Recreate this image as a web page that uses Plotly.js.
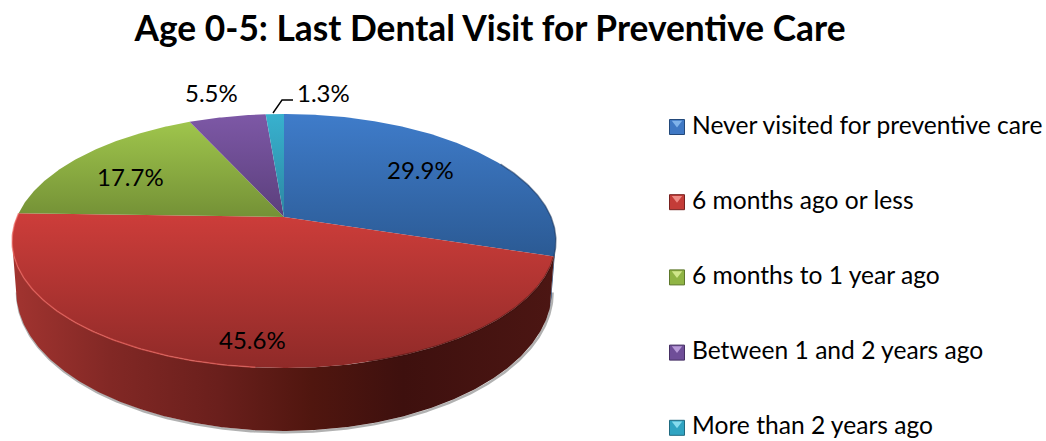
<!DOCTYPE html>
<html>
<head>
<meta charset="utf-8">
<script src="https://cdn.plot.ly/plotly-3.0.1.min.js"></script>
<style>html,body{margin:0;padding:0;background:#fff}#chart{width:1046px;height:441px}</style>
</head>
<body>
<div id="chart"></div>
<script>
// Survey results
const categories = ["Never visited for preventive care", "6 months ago or less", "6 months to 1 year ago", "Between 1 and 2 years ago", "More than 2 years ago"];
const shares = [29.9, 45.6, 17.7, 5.5, 1.3];
const chartTitle = "Age 0-5: Last Dental Visit for Preventive Care";

// Slice styling: top-face gradient (upper, lower) and key swatch colours
const faceHigh = ["#3f7cca", "#cd3d3a", "#9fc54c", "#7d58a6", "#38b1ce"];
const faceLow = ["#2b5a94", "#8f2a28", "#749136", "#5b3f7c", "#2c87a2"];
const swatchMid = ["#3f78c4", "#c43c38", "#8fb444", "#6f4e98", "#30a4c2"];
const swatchDark = ["#23497a", "#77211f", "#5d772b", "#463064", "#206a80"];
const swatchLight = ["#7fb2ea", "#ee8a84", "#cfe68a", "#b89ad8", "#86dcee"];

// Tilted-disc projection of the pie plate onto the plot
const disc = {cx: 284, cy: 217, halfWidth: 267, halfHeight: 122.5, tilt: 0.189};
const rimBase = {dy: 47.5, xScale: 0.985, yScale: 1.102};

function project(deg, base) {
  const t = deg * Math.PI / 180;
  const u = Math.sin(t), v = Math.cos(t), w = 1 + disc.tilt * v;
  const xs = base ? rimBase.xScale : 1, ys = base ? rimBase.yScale : 1, dy = base ? rimBase.dy : 0;
  return [disc.cx + xs * disc.halfWidth * u / w, disc.cy + dy - ys * disc.halfHeight * v / w];
}
function arc(from, to, base) {
  const n = Math.max(2, Math.ceil(Math.abs(to - from) * 2));
  const pts = [];
  for (let i = 0; i <= n; i++) pts.push(project(from + (to - from) * i / n, base));
  return pts;
}
// Angle at which the rim reaches its rightmost (sign 1) or leftmost (sign -1) point
function silhouetteAngle(sign) {
  let best = 0, bestX = -Infinity;
  for (let d = 0; d < 360; d += 0.25) {
    const x = sign * project(d, false)[0];
    if (x > bestX) { bestX = x; best = d; }
  }
  return best;
}
const xs = p => p.map(q => q[0]), ys = p => p.map(q => q[1]);

const total = shares.reduce((a, b) => a + b, 0);
let running = 0;
const spans = shares.map(s => {
  const a = running / total * 360;
  running += s;
  return [a, running / total * 360];
});
const rightTurn = silhouetteAngle(1), leftTurn = silhouetteAngle(-1);

const traces = [];
const common = {type: "scatter", hoverinfo: "skip", showlegend: false, xaxis: "x", yaxis: "y"};

// Soft contact shadow under the base of the disc
const shadow = arc(rightTurn, leftTurn, true);
traces.push({...common, mode: "lines", x: xs(shadow).map(v => v + 0.8), y: ys(shadow).map(v => v + 1.3),
  line: {color: "rgba(100,100,100,0.5)", width: 2.5}});

// Side wall between the rim and the base, front half only
spans.forEach(([a, b], i) => {
  const from = Math.max(a, rightTurn), to = Math.min(b, leftTurn);
  if (to <= from) return;
  const outline = arc(from, to, false).concat(arc(to, from, true));
  const isRed = i === 1;
  traces.push({...common, mode: "lines", x: xs(outline), y: ys(outline), fill: "toself",
    line: {width: 0, color: "rgba(0,0,0,0)"},
    fillgradient: {type: "horizontal", start: 12, stop: 556,
      colorscale: isRed
        ? [[0, "#a23430"], [0.18, "#822825"], [0.38, "#6a1f1c"], [0.55, "#50160f"], [0.72, "#3e100e"], [1, "#4c1613"]]
        : [[0, swatchDark[i]], [1, swatchDark[i]]]}});
});

// Top faces of the slices
spans.forEach(([a, b], i) => {
  const rim = arc(a, b, false);
  const apex = [disc.cx, disc.cy];
  const outline = [apex].concat(rim, [apex]);
  const yTop = Math.min(...ys(outline)), yLow = Math.max(...ys(outline));
  traces.push({...common, mode: "lines", name: categories[i], x: xs(outline), y: ys(outline), fill: "toself",
    line: {width: 0, color: "rgba(0,0,0,0)"},
    fillgradient: {type: "vertical", start: yTop, stop: yLow,
      colorscale: [[0, faceHigh[i]], [1, faceLow[i]]]}});
});

// Bevel along the rim: lit on the left, shaded on the right
const redGlow = arc(185, spans[1][1], false);
traces.push({...common, mode: "lines", x: xs(redGlow), y: ys(redGlow), line: {color: "rgba(236,100,94,0.65)", width: 1.5}});
const redShade = arc(spans[1][0], 165, false);
traces.push({...common, mode: "lines", x: xs(redShade), y: ys(redShade), line: {color: "rgba(50,12,10,0.4)", width: 2}});
const blueEdge = arc(62, spans[0][1], false);
traces.push({...common, mode: "lines", x: xs(blueEdge), y: ys(blueEdge), line: {color: "rgba(20,48,88,0.55)", width: 1.5}});

// Leader line for the smallest slice
traces.push({...common, mode: "lines", x: [273, 282, 293], y: [113, 100, 100], line: {color: "#000", width: 1.4}});

// Colour key, one row per category: bevelled square with a lit upper edge
const keyX = 677, keyTextX = 690, keyTop = 127, keyStep = 75.2;
categories.forEach((name, i) => {
  const rowY = keyTop + i * keyStep;
  traces.push({...common, mode: "markers", name, x: [keyX], y: [rowY], cliponaxis: false,
    marker: {symbol: "square", size: 15, color: swatchMid[i],
      line: {color: swatchDark[i], width: 1}}});
  traces.push({...common, mode: "markers", x: [keyX], y: [rowY - 4], cliponaxis: false,
    marker: {symbol: "triangle-down", size: 9, color: swatchLight[i], line: {width: 0}}});
});
const keyLabels = categories.map((name, i) => ({
  x: keyTextX, y: keyTop - 3 + i * keyStep, xref: "x", yref: "y", showarrow: false,
  text: name, xanchor: "left", yanchor: "middle",
  font: {family: "Lato, sans-serif", size: 24.6, color: "#000"}
}));

// Value labels
const labelSpots = [[420, 169], [252, 339], [130, 176], [211, 92], [323, 92]];
const valueLabels = shares.map((s, i) => ({
  x: labelSpots[i][0], y: labelSpots[i][1], xref: "x", yref: "y", showarrow: false,
  text: s.toFixed(1) + "%", xanchor: "center", yanchor: "middle",
  font: {family: "Lato, sans-serif", size: 24, color: "#000"}
}));

const layout = {
  width: 1046, height: 441,
  margin: {l: 0, r: 0, t: 0, b: 0, pad: 0},
  paper_bgcolor: "#fff", plot_bgcolor: "#fff",
  title: {text: "<b>" + chartTitle + "</b>", x: 490 / 1046, xanchor: "center", xref: "paper",
    y: 1 - 29 / 441, yanchor: "middle", yref: "paper",
    font: {family: "Lato, sans-serif", size: 35.3, color: "#000"}},
  xaxis: {range: [0, 1046], visible: false, fixedrange: true},
  yaxis: {range: [441, 0], visible: false, fixedrange: true},
  showlegend: false,
  annotations: valueLabels.concat(keyLabels)
};

Plotly.newPlot("chart", traces, layout, {displayModeBar: false, staticPlot: true});
</script>
</body>
</html>
